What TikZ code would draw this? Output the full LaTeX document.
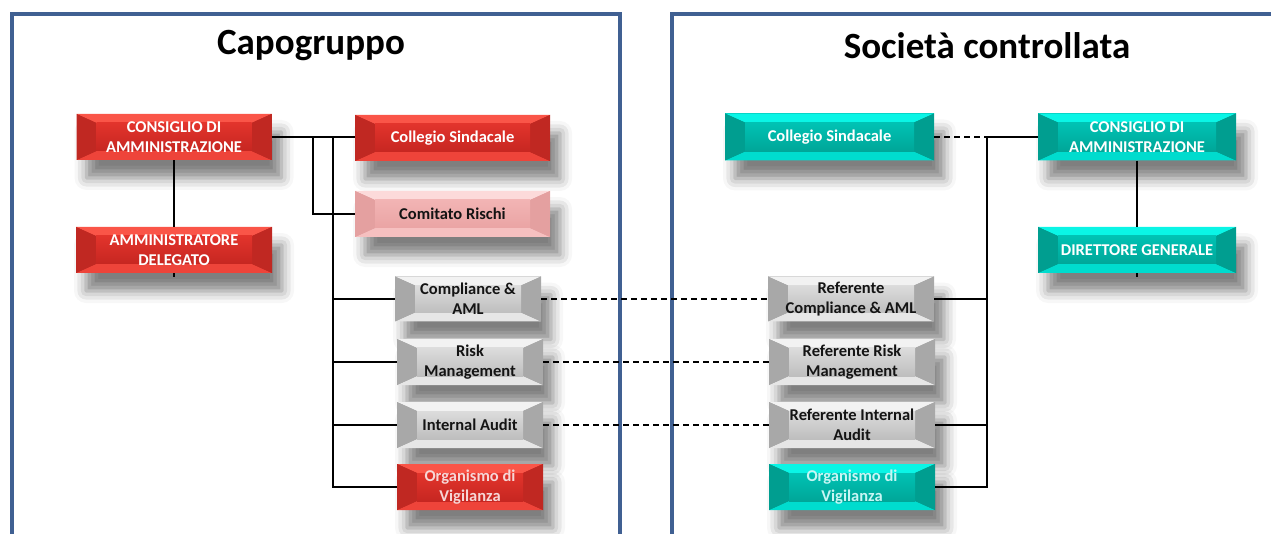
\documentclass[tikz,border=0pt]{standalone}
\usepackage{fontspec}
\setmainfont{Carlito}
\usetikzlibrary{shadows.blur}
\definecolor{frameblue}{RGB}{64,96,146}
\definecolor{rTop}{RGB}{250,85,72}
\definecolor{rSide}{RGB}{192,40,34}
\definecolor{rBot}{RGB}{238,68,58}
\definecolor{rInT}{RGB}{226,52,44}
\definecolor{rInB}{RGB}{198,38,33}
\definecolor{pTop}{RGB}{252,218,218}
\definecolor{pSide}{RGB}{228,160,160}
\definecolor{pBot}{RGB}{246,192,192}
\definecolor{pInT}{RGB}{242,180,180}
\definecolor{pInB}{RGB}{234,164,164}
\definecolor{gTop}{RGB}{242,242,242}
\definecolor{gSide}{RGB}{168,168,168}
\definecolor{gBot}{RGB}{230,230,230}
\definecolor{gInT}{RGB}{220,220,220}
\definecolor{gInB}{RGB}{190,190,190}
\definecolor{tTop}{RGB}{10,245,230}
\definecolor{tSide}{RGB}{0,158,144}
\definecolor{tBot}{RGB}{0,220,206}
\definecolor{tInT}{RGB}{0,194,180}
\definecolor{tInB}{RGB}{0,166,152}
\definecolor{paleRed}{RGB}{246,214,214}
\definecolor{paleTeal}{RGB}{200,246,244}
\definecolor{darktext}{RGB}{20,20,20}
\tikzset{
  bevel/.style n args={5}{
    fill=#2, draw=none, inner sep=0pt, align=center,
    font=\fontsize{16.5}{20}\selectfont\bfseries,
    blur shadow={shadow xshift=10pt, shadow yshift=-18pt, shadow blur radius=12pt, shadow opacity=50},
    path picture={
      \fill[#1] (path picture bounding box.north west) -- (path picture bounding box.north east)
        -- ([xshift=-20pt,yshift=-9pt]path picture bounding box.north east)
        -- ([xshift=20pt,yshift=-9pt]path picture bounding box.north west) -- cycle;
      \fill[#3] (path picture bounding box.south west) -- (path picture bounding box.south east)
        -- ([xshift=-20pt,yshift=9pt]path picture bounding box.south east)
        -- ([xshift=20pt,yshift=9pt]path picture bounding box.south west) -- cycle;
      \fill[#2] (path picture bounding box.north west) -- ([xshift=20pt,yshift=-9pt]path picture bounding box.north west)
        -- ([xshift=20pt,yshift=9pt]path picture bounding box.south west) -- (path picture bounding box.south west) -- cycle;
      \fill[#2] (path picture bounding box.north east) -- ([xshift=-20pt,yshift=-9pt]path picture bounding box.north east)
        -- ([xshift=-20pt,yshift=9pt]path picture bounding box.south east) -- (path picture bounding box.south east) -- cycle;
      \shade[top color=#4, bottom color=#5] ([xshift=20pt,yshift=-9pt]path picture bounding box.north west)
        rectangle ([xshift=-20pt,yshift=9pt]path picture bounding box.south east);
    }},
  redbox/.style={bevel={rTop}{rSide}{rBot}{rInT}{rInB}, text=white},
  pinkbox/.style={bevel={pTop}{pSide}{pBot}{pInT}{pInB}, text=darktext},
  graybox/.style={bevel={gTop}{gSide}{gBot}{gInT}{gInB}, text=darktext},
  tealbox/.style={bevel={tTop}{tSide}{tBot}{tInT}{tInB}, text=white},
  panel/.style={draw=frameblue, line width=3.5pt},
  title/.style={font=\fontsize{37}{40}\selectfont\bfseries, text=black},
  conn/.style={draw=black, line width=1.3pt},
  trunk/.style={draw=black, line width=2pt},
  dconn/.style={draw=black, line width=1.2pt, dash pattern=on 6pt off 4pt},
}
\begin{document}
\begin{tikzpicture}[x=1pt,y=-1pt]
\useasboundingbox (0,0) rectangle (1271,534);
\clip (0,0) rectangle (1271,534);
% panels
\draw[panel] (12,545) -- (12,14) -- (620,14) -- (620,545);
\draw[panel] (672,545) -- (672,14) -- (1290,14);
\node[title] (t1) at (311,46) {Capogruppo};
\node[title] (t2) at (987,46) {Società controllata};
% left boxes
\node[redbox, minimum width=195pt, minimum height=46pt] (lcda) at (174,137) {CONSIGLIO DI\\AMMINISTRAZIONE};
\node[redbox, minimum width=196pt, minimum height=46pt] (lad) at (174,250) {AMMINISTRATORE\\DELEGATO};
\node[redbox, minimum width=195pt, minimum height=46pt] (lcs) at (452.5,138) {Collegio Sindacale};
\node[pinkbox, minimum width=195pt, minimum height=46pt] (lcr) at (452.5,214) {Comitato Rischi};
\node[graybox, minimum width=146pt, minimum height=45pt] (lcomp) at (468,299) {Compliance \&\\AML};
\node[graybox, minimum width=146pt, minimum height=46pt] (lrisk) at (470,362) {Risk\\Management};
\node[graybox, minimum width=146pt, minimum height=46pt] (laudit) at (470,425) {Internal Audit};
\node[redbox, text=paleRed, minimum width=146pt, minimum height=46pt] (lodv) at (470,487) {Organismo di\\Vigilanza};
% right boxes
\node[tealbox, minimum width=209pt, minimum height=47pt] (rcs) at (829.5,137) {Collegio Sindacale};
\node[tealbox, minimum width=198pt, minimum height=47pt] (rcda) at (1137,137) {CONSIGLIO DI\\AMMINISTRAZIONE};
\node[tealbox, minimum width=198pt, minimum height=46pt] (rdg) at (1137,250) {DIRETTORE GENERALE};
\node[graybox, minimum width=166pt, minimum height=45pt] (rcomp) at (851,299) {Referente\\Compliance \& AML};
\node[graybox, minimum width=166pt, minimum height=46pt] (rrisk) at (852,362) {Referente Risk\\Management};
\node[graybox, minimum width=166pt, minimum height=46pt] (raudit) at (852,425) {Referente Internal\\Audit};
\node[tealbox, text=paleTeal, minimum width=166pt, minimum height=46pt] (rodv) at (852,487) {Organismo di\\Vigilanza};
% left connectors
\coordinate (lb1) at (313,137);
\coordinate (lb2) at (333,137);
\coordinate (ladstub) at (174,277);
\draw[conn] (lcda.south) -- (lad.north);
\draw[conn] (lad.south) -- (ladstub);
\draw[trunk] (lcda.east) -- (lb2);
\draw[conn] (lb2) -- (lcs.west |- lb2);
\draw[conn] (lb1) |- (lcr.west);
\draw[trunk] (lb2) |- (lodv.west);
\draw[conn] (lb2) |- (lcomp.west);
\draw[conn] (lb2) |- (lrisk.west);
\draw[conn] (lb2) |- (laudit.west);
% dashed links
\draw[dconn] (lcomp.east) -- (rcomp.west);
\draw[dconn] (lrisk.east) -- (rrisk.west);
\draw[dconn] (laudit.east) -- (raudit.west);
% right connectors
\coordinate (rb) at (987,137);
\coordinate (rdgstub) at (1137,277);
\draw[dconn] (rcs.east) -- (rb);
\draw[conn] (rb) -- (rcda.west);
\draw[conn] (rb) |- (rodv.east);
\draw[conn] (rb) |- (rcomp.east);
\draw[conn] (rb) |- (raudit.east);
\draw[conn] (rcda.south) -- (rdg.north);
\draw[conn] (rdg.south) -- (rdgstub);
\end{tikzpicture}
\end{document}
